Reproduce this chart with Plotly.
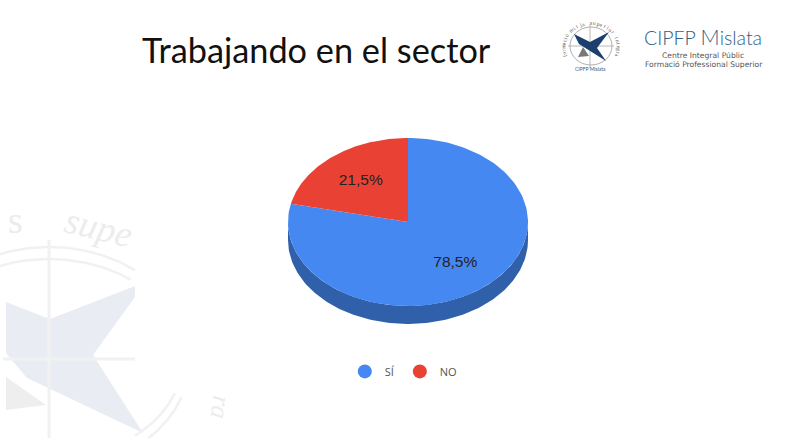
import numpy as np
import plotly.graph_objects as go

categories = ["SÍ", "NO"]
values = [78.5, 21.5]
value_labels = ["78,5%", "21,5%"]
colors = ["#4688f1", "#e94235"]
side_colors = ["#3160aa", "#3160aa"]
title_text = "Trabajando en el sector"

# Pie geometry, in page pixels
CX, CY, RX, RY, DEPTH = 408, 222, 120, 84, 18
LABEL_R = 0.63


def ellipse(a0, a1, cx=CX, cy=CY, rx=RX, ry=RY, n=160):
    t = np.radians(np.linspace(a0, a1, n))
    return cx + rx * np.sin(t), cy - ry * np.cos(t)


def poly(pts):
    return "M" + " L".join(f"{x},{y}" for x, y in pts) + " Z"


fig = go.Figure()

# Watermark in the lower left corner and the logo, drawn as background shapes
shapes = [
    dict(type="path", layer="below", line_width=0, fillcolor="#e9edf3",
         path=poly([(6, 302), (50, 319), (135, 286), (135, 297), (93, 355), (143, 433), (27, 378), (6, 353)])),
    dict(type="path", layer="below", line_width=0, fillcolor="#eeeeee",
         path=poly([(6, 377), (46, 405), (6, 410)])),
    dict(type="line", layer="below", x0=49, x1=49, y0=240, y1=438, line=dict(color="#f1f1f1", width=3)),
    dict(type="line", layer="below", x0=3, x1=135, y0=359, y1=359, line=dict(color="#f1f1f1", width=3)),
    # logo
    dict(type="line", x0=590, x1=590, y0=24, y1=68, layer="below", line=dict(color="#b8b8b8", width=1)),
    dict(type="line", x0=568, x1=614, y0=46, y1=46, layer="below", line=dict(color="#b8b8b8", width=1)),
    dict(type="circle", x0=570, x1=612, y0=27, y1=65, layer="below", line=dict(color="#b0b0b0", width=1)),
    dict(type="path", line_width=0, fillcolor="#77787a",
         path=poly([(583, 47), (578, 57), (589, 56)])),
    dict(type="path", line_width=0, fillcolor="#1c3f6e",
         path=poly([(574, 34), (590, 42), (609, 32), (597, 48), (606, 61), (579, 44)])),
]


def deco_line(x, y, color="#f1f1f1", width=2.5):
    fig.add_trace(go.Scatter(x=x, y=y, mode="lines", line=dict(color=color, width=width),
                             showlegend=False, hoverinfo="skip"))


for a, b in [(141, 112), (134, 100)]:
    t = np.radians(np.linspace(-31, 37.5, 80))
    x, y = 49 + a * np.sin(t), 359 - b * np.cos(t)
    deco_line(x, y)
    t = np.radians(np.linspace(110, 140, 40))
    x, y = 49 + a * np.sin(t), 359 - b * np.cos(t)
    deco_line(x, y)

# Side of the pie
xs, ys = ellipse(90, 270)
fig.add_trace(go.Scatter(
    x=np.r_[xs, xs[::-1]], y=np.r_[ys, ys[::-1] + DEPTH],
    mode="lines", fill="toself", fillcolor=side_colors[0],
    line=dict(width=0, color=side_colors[0]), showlegend=False, hoverinfo="skip"))

# Top face, one slice per value, clockwise from twelve o'clock
total = sum(values)
start = 0.0
mids = []
for name, v, c in zip(categories, values, colors):
    sweep = 360.0 * v / total
    xs, ys = ellipse(start, start + sweep)
    fig.add_trace(go.Scatter(
        x=np.r_[CX, xs, CX], y=np.r_[CY, ys, CY],
        mode="lines", fill="toself", fillcolor=c, line=dict(width=0, color=c),
        showlegend=False, name=name, hoverinfo="name"))
    mids.append(start + sweep / 2)
    start += sweep

# Value labels
lx = [CX + LABEL_R * RX * np.sin(np.radians(m)) for m in mids]
ly = [CY - LABEL_R * RY * np.cos(np.radians(m)) for m in mids]
fig.add_trace(go.Scatter(x=lx, y=ly, mode="text", text=value_labels,
                         textfont=dict(family="Liberation Sans", size=15.5, color="#222222"),
                         textposition="middle center", showlegend=False, hoverinfo="skip"))

# Legend entries
for name, c in zip(categories, colors):
    fig.add_trace(go.Scatter(x=[None], y=[None], mode="markers", name=name,
                             marker=dict(color=c, size=14)))

annotations = [
    dict(x=316, y=49, text=title_text, font=dict(family="Lato", size=34.3, color="#111111")),
    dict(x=703, y=36.5, text="CIPFP <span style='font-size:21px'>M</span>islata",
         font=dict(family="Lato", size=19.5, color="#2e5d86", weight=300)),
    dict(x=703, y=55.5, text="Centre Integral Públic", font=dict(family="DejaVu Sans", size=7.6, color="#555555")),
    dict(x=704, y=64, text="Formació Professional Superior", font=dict(family="DejaVu Sans", size=7.6, color="#555555")),
    dict(x=590, y=69, text="CIPFP Mislata", font=dict(family="Lato", size=5, color="#2e5d86")),
    dict(x=15, y=220, text="s", font=dict(family="Liberation Serif", size=38, color="#ececec")),
    dict(x=99, y=227, text="<i>supe</i>", textangle=14, font=dict(family="Liberation Serif", size=37, color="#ececec")),
    dict(x=221, y=407, text="<i>ra</i>", textangle=98, font=dict(family="Liberation Serif", size=26, color="#ececec")),
]
# Small text around the logo ring
ring = "formació mitja superior integra"
for i, ch in enumerate(ring):
    a = -112 + i * 224 / (len(ring) - 1)
    annotations.append(dict(x=591 + 28 * np.sin(np.radians(a)), y=47 - 24 * np.cos(np.radians(a)),
                            text=ch, textangle=a, font=dict(family="Liberation Serif", size=5.5, color="#555555")))
for an in annotations:
    an.update(xref="x", yref="y", showarrow=False)

fig.update_layout(
    width=800, height=438, margin=dict(l=0, r=0, t=0, b=0),
    paper_bgcolor="white", plot_bgcolor="white",
    xaxis=dict(range=[0, 800], visible=False, fixedrange=True),
    yaxis=dict(range=[438, 0], visible=False, fixedrange=True),
    shapes=shapes, annotations=annotations,
    legend=dict(orientation="h", x=0.431, y=0.152, xanchor="left", yanchor="middle",
                font=dict(family="Open Sans", size=11, color="#555555"),
                bgcolor="rgba(0,0,0,0)", itemclick=False, itemdoubleclick=False),
)
fig.write_html("out.html", config=dict(displayModeBar=False),
               post_script="document.body.style.margin='0';document.body.style.overflow='hidden';")
